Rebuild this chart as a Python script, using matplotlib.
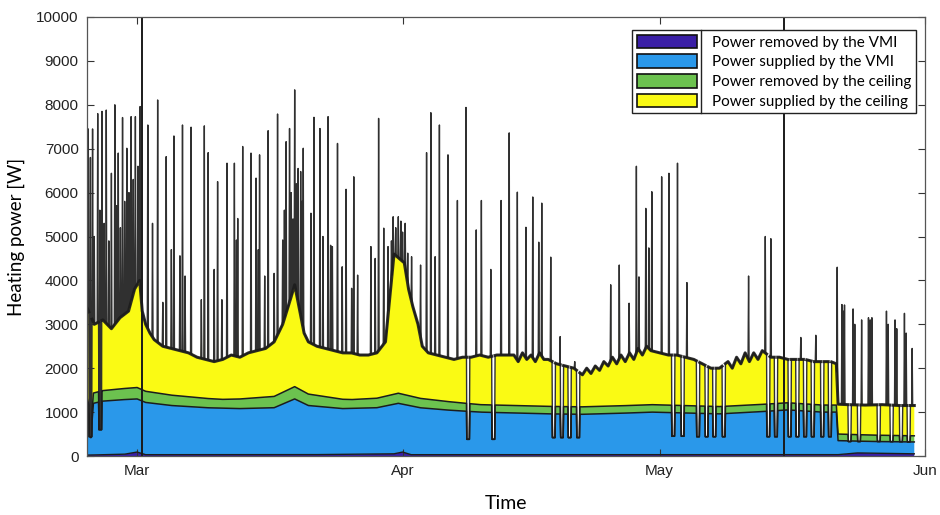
import numpy as np
import matplotlib
matplotlib.use("Agg")
import matplotlib.pyplot as plt
from matplotlib.patches import Patch
from matplotlib.lines import Line2D

# ---------------- data (days relative to 1 March) ----------------
month_days = [0, 31, 61, 92]
month_labels = ["Mar", "Apr", "May", "Jun"]

# top of the stack (ceiling supplied upper edge) without spikes
base_day = [-5.9, -5.0, -4.0, -3.0, -2.0, -1.0, -0.3, 0.3, 0.6, 1.0, 1.5, 2.0, 3.0, 4.0,
            5.0, 6.0, 7.0, 8.0, 9.0, 10.0, 11.0, 12.0, 13.0, 14.0, 15.0, 16.0, 17.0,
            17.8, 18.4, 19.0, 19.5, 20.0, 21.0, 22.0, 23.0, 24.0, 25.0, 26.0, 27.0,
            28.0, 29.0, 29.6, 30.0, 30.6, 31.2, 31.7, 32.2, 32.8, 33.3, 34.0, 35.0,
            36.0, 37.0, 38.0, 39.0, 40.0, 41.0, 42.0, 43.0, 44.0, 44.5, 45.0, 45.5,
            46.0, 46.5, 47.0, 47.5, 48.0, 49.0, 50.0, 51.0, 52.0, 52.5, 53.0, 53.5,
            54.0, 54.5, 55.0, 55.5, 56.0, 56.5, 57.0, 57.5, 58.0, 58.5, 59.0, 59.5,
            60.0, 61.0, 62.0, 63.0, 64.0, 65.0, 66.0, 67.0, 68.0, 69.0, 69.5, 70.0,
            70.5, 71.0, 71.5, 72.0, 72.5, 73.0, 74.0, 75.0, 76.0, 77.0, 78.0, 79.0,
            80.0, 81.0, 81.65, 81.85, 83.0, 85.0, 87.0, 89.0, 90.75]
base_total = [3400, 3000, 3100, 2900, 3150, 3300, 3800, 4000, 3300, 3000, 2800, 2650, 2500,
              2450, 2400, 2350, 2250, 2200, 2150, 2200, 2300, 2250, 2350, 2400, 2450, 2600,
              3000, 3500, 3900, 3300, 2800, 2600, 2500, 2450, 2400, 2350, 2350, 2300, 2300,
              2350, 2600, 3800, 4600, 4500, 4400, 3800, 3400, 3000, 2500, 2350, 2300, 2250,
              2200, 2250, 2250, 2300, 2250, 2300, 2300, 2300, 2150, 2350, 2200, 2300,
              2150, 2350, 2200, 2200, 2100, 2050, 2000, 1850, 2000, 1880, 2050,
              1950, 2150, 2050, 2250, 2100, 2300, 2150, 2350, 2200, 2450, 2300, 2500,
              2400, 2350, 2300, 2300, 2250, 2200, 2100, 2000, 2000, 2150, 2000, 2250,
              2100, 2350, 2150, 2350, 2200, 2400, 2250, 2250, 2200, 2200, 2200, 2150,
              2150, 2150, 2100, 1180, 1170, 1160, 1170, 1150, 1150]

# top of "power supplied by the VMI"
blue_day = [-5.9, -5.6, -5.4, -5.1, -4.0, -2.0, 0.0, 1.0, 4.0, 8.0, 12.0, 16.0, 18.4, 20.0,
            24.0, 28.0, 30.5, 33.0, 36.0, 40.0, 44.0, 48.0, 52.0, 56.0, 60.0, 64.0, 68.0,
            72.0, 76.0, 80.0, 81.65, 81.85, 86.0, 90.75]
blue_top = [1150, 900, 420, 1200, 1250, 1280, 1300, 1220, 1150, 1100, 1080, 1100, 1300, 1150,
            1080, 1100, 1200, 1100, 1050, 1000, 980, 960, 950, 970, 1000, 980, 960,
            1000, 1050, 1000, 1000, 350, 330, 320]

# thickness of "power removed by the ceiling"
green_day = [-5.9, 0.0, 10.0, 18.4, 25.0, 30.5, 40.0, 60.0, 81.65, 81.85, 90.75]
green_width = [230, 260, 200, 280, 200, 230, 170, 170, 160, 150, 140]

# "power removed by the VMI"
dblue_day = [-5.9, -1.5, 0.0, 1.0, 20.0, 30.0, 31.0, 32.0, 60.0, 81.8, 84.0, 90.75]
dblue_val = [20, 40, 90, 30, 30, 50, 90, 30, 30, 30, 70, 50]

spike_day = [-5.7, -5.45, -5.2, -5.0, -4.6, -4.35, -4.1, -3.85, -3.6, -3.3, -3.0, -2.6,
             -2.4, -2.2, -1.95, -1.7, -1.45, -1.2, -0.95, -0.7, -0.45, -0.2, 0.1, 0.35,
             1.25, 1.8, 2.4, 3.0, 3.4, 4.0, 4.3, 5.0, 5.3, 5.6, 6.3, 7.5, 7.85, 8.3, 9.0,
             9.4, 9.9, 10.5, 11.36, 11.6, 11.75, 12.33, 13.3, 13.89, 14.15, 14.3, 14.9,
             15.3, 16.0, 16.4, 17.0, 17.2, 17.4, 17.8, 18.0, 18.2, 18.4, 18.6, 18.8, 19.1,
             19.25, 19.4, 20.3, 20.65,
             21.35, 21.7, 22.3, 22.6, 22.8, 23.4, 23.95, 24.4, 25.05, 25.3, 25.75,
             27.3, 27.8, 28.2, 28.8, 29.3, 29.7, 29.9, 30.2, 30.5, 30.8, 31.0, 31.3,
             31.6, 32.05, 33.1, 33.8,
             34.3, 34.8, 35.3, 36.3, 37.4, 38.4, 39.6, 40.2, 41.3, 42.5, 43.45,
             44.4, 45.4, 46.2, 46.9, 47.25, 48.3, 49.4, 51.1,
             55.3, 56.3, 57.45, 58.3, 58.6, 59.4, 59.75, 60.1, 61.25, 62.1, 63.1, 64.2,
             71.4, 73.35, 74.0, 77.5, 79.25,
             81.75, 82.3, 82.45, 82.6, 83.6, 83.8, 84.6, 85.4, 85.6, 85.8, 87.5, 87.7,
             88.5, 88.7, 89.6, 89.8, 90.5]
spike_peak = [7450, 6800, 7450, 5000, 7800, 5600, 7850, 5300, 7880, 4900, 6440, 8000,
              5700, 6900, 5200, 7710, 5800, 7010, 6000, 7730, 6300, 7730, 6600, 7960,
              7540, 5300, 8110, 3500, 6820, 4700, 7290, 4560, 7540, 4100, 7490, 3560, 7520,
              6910, 4250, 6250, 3560, 6670, 6670, 4920, 5410, 7050, 6900, 6330, 4700, 6860,
              4100, 7410, 4160, 7790, 4920, 5600, 7160, 7460, 6000, 5400, 8340, 6200, 6550,
              6480, 5800, 7010, 5530, 7715,
              7460, 5000, 7730, 4800, 4770, 7120, 4310, 6075, 3820, 6360, 4120,
              4770, 4500, 7690, 5190, 4770, 4900, 5450, 5200, 5450, 5350, 5100, 5300,
              4620, 4540, 4350, 6910,
              7820, 4540, 7540, 6860, 5820, 7940, 5150, 5820, 4250, 5820, 7360,
              6010, 5210, 5900, 4870, 5760, 4530, 2720, 2150,
              3900, 4350, 3480, 6600, 4080, 5640, 4740, 6020, 6360, 6440, 6670, 3950,
              4100, 5000, 4950, 2700, 2750,
              4300, 3450, 3300, 3440, 3350, 3000, 3100, 3150, 3100, 3150, 3300, 3000,
              3100, 2900, 3250, 2800, 2450]

dip_day = [-5.45, -4.3, 38.65, 41.6, 48.65, 49.6, 50.5, 51.5, 62.6, 63.7,
           65.5, 66.5, 67.4, 68.5, 73.7, 74.6, 76.2, 77.1, 78.0, 78.9, 80.0, 80.9,
           83.2, 84.3, 86.6, 88.1, 89.2, 90.1]
dip_level = [440, 600, 380, 380, 420, 420, 420, 420, 450, 450,
             440, 440, 440, 440, 440, 440, 440, 440, 440, 440, 440, 440,
             330, 330, 330, 330, 330, 320]

outlier_day = [0.6, 75.55]

# ---------------- build stacked series ----------------
HW = 0.06    # spike half width (days)
DW = 0.2     # dip half width (days)
pts = set(base_day) | set(blue_day) | set(green_day) | set(dblue_day)
for d in spike_day:
    pts.update([d - HW, d, d + HW])
for d in dip_day:
    pts.update([d - DW, d - DW + 0.05, d + DW - 0.05, d + DW])
x = np.array(sorted(p for p in pts if base_day[0] <= p <= base_day[-1]))

total = np.interp(x, base_day, base_total)
blue = np.interp(x, blue_day, blue_top)
green = np.interp(x, green_day, green_width)
dblue = np.interp(x, dblue_day, dblue_val)

dip_mask = np.zeros_like(x, dtype=bool)
for d, lv in zip(dip_day, dip_level):
    m = (x >= d - DW + 0.05 - 1e-9) & (x <= d + DW - 0.05 + 1e-9)
    total[m] = lv
    blue[m] = np.minimum(blue[m], lv)
    green[m] = 0
    dip_mask |= m
base_line = total.copy()
for d, p in zip(spike_day, spike_peak):
    total[np.isclose(x, d)] = p

c_vmi_removed = dblue
c_vmi_supplied = blue - dblue
c_ceil_removed = np.minimum(green, np.maximum(total - blue, 0))
c_ceil_supplied = np.maximum(total - blue - c_ceil_removed, 0)
green_top = blue + c_ceil_removed

# ---------------- plot ----------------
colors = ["#3a1fa6", "#2a98ea", "#6cc24f", "#fafa14"]
labels = ["Power removed by the VMI", "Power supplied by the VMI",
          "Power removed by the ceiling", "Power supplied by the ceiling"]

fig = plt.figure(figsize=(9.4, 5.15), dpi=100)
ax = fig.add_axes([87 / 940, 59 / 515, 838 / 940, 439 / 515])

ax.stackplot(x, c_vmi_removed, c_vmi_supplied, c_ceil_removed, c_ceil_supplied,
             colors=colors, edgecolor="none", linewidth=0)
edge = "#1c1c1c"
ax.plot(x, total, color="#303030", lw=1.0)
ax.plot(x, np.where(dip_mask, np.nan, base_line), color=edge, lw=2.2, alpha=0.9)
ax.plot(x, green_top, color=edge, lw=1.1)
ax.plot(x, blue, color=edge, lw=1.1)
ax.plot(x, dblue, color=edge, lw=1.0)
for d in outlier_day:
    ax.axvline(d, color="#1a1a1a", lw=1.4)

ax.set_xlim(base_day[0] + 0.05, month_days[-1])
ax.set_ylim(0, 10000)
ax.set_yticks(np.arange(0, 10001, 1000))
ax.set_xticks(month_days)
ax.set_xticklabels(month_labels)

tick_font = ["Liberation Sans Narrow", "Liberation Sans"]
for lab in ax.get_xticklabels() + ax.get_yticklabels():
    lab.set_family(tick_font)
    lab.set_fontsize(11)

ax.tick_params(direction="in", top=True, right=True, length=5, width=0.8,
               colors="#333333", labelcolor="#222222", pad=6)
for s in ax.spines.values():
    s.set_color("#555555")
    s.set_linewidth(0.9)

ax.set_ylabel("Heating power [W]", family="Lato", fontsize=13.5, labelpad=8)
ax.set_xlabel("Time", family="Lato", fontsize=14, labelpad=12)

handles = [Patch(facecolor=c, edgecolor="#111111", linewidth=1.2) for c in colors]
leg = ax.legend(handles, labels, loc="upper right", bbox_to_anchor=(0.989, 0.970),
                borderaxespad=0, fancybox=False, framealpha=1, edgecolor="#222222",
                prop={"family": "Lato", "size": 11}, handlelength=3.9,
                handleheight=1.0, labelspacing=0.3, handletextpad=1.0, borderpad=0.3)
leg.get_frame().set_linewidth(1.0)

# vertical separator between legend swatches and texts (MATLAB style)
fig.canvas.draw()
renderer = fig.canvas.get_renderer()
lb = leg.get_frame().get_window_extent(renderer)
hx = max(h.get_window_extent(renderer).x1 for h in leg.legend_handles)
sx = (hx + 4) / fig.bbox.width
fig.add_artist(Line2D([sx, sx], [lb.y0 / fig.bbox.height, lb.y1 / fig.bbox.height],
                      transform=fig.transFigure, color="#222222", lw=1.0))

fig.savefig("out.png", dpi=100)
